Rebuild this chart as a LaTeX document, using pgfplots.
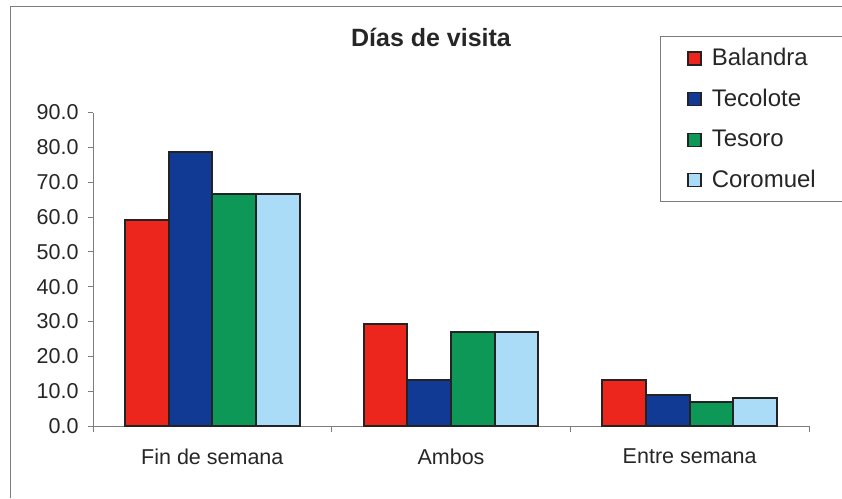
\documentclass[border=0pt]{standalone}
\usepackage{fontspec}
\setmainfont{Liberation Sans}
\usepackage{pgfplots}
\pgfplotsset{compat=1.18}

\definecolor{cBal}{RGB}{236,38,28}
\definecolor{cTec}{RGB}{16,58,148}
\definecolor{cTes}{RGB}{14,152,88}
\definecolor{cCor}{RGB}{170,220,248}
\definecolor{frameGray}{RGB}{125,125,125}
\definecolor{barEdge}{RGB}{35,35,35}

\pgfplotstableread{
cat Balandra Tecolote Tesoro Coromuel
0   59.1     78.7     66.6   66.6
1   29.3     13.1     27.0   27.0
2   13.2     9.0      6.9    7.9
}\visitas

\begin{document}
\begin{tikzpicture}[x=1pt,y=1pt]
\useasboundingbox (0,0) rectangle (842,498);
% chart frame
\draw[frameGray, line width=0.8pt] (10,0) -- (10,492) -- (842,492);
% title
\node[font=\bfseries\fontsize{25}{30}\selectfont, text=black!85] at (431,461) {Días de visita};
\begin{axis}[
  at={(93pt,72pt)}, anchor=south west,
  scale only axis, width=716pt, height=313.5pt,
  xmin=-0.5, xmax=2.5, ymin=0, ymax=90,
  ybar=0pt, bar width=0.183,
  axis x line=bottom, axis y line=left,
  axis line style={-, frameGray, line width=0.8pt},
  xtick={0,1,2},
  xticklabels={Fin de semana, Ambos, Entre semana},
  minor xtick={-0.5,0.5,1.5,2.5},
  ytick={0,10,...,90},
  tick align=outside,
  major tick length=5pt, minor tick length=6pt,
  every major x tick/.style={draw=none},
  every minor x tick/.style={frameGray, line width=0.8pt},
  every major y tick/.style={frameGray, line width=0.8pt},
  /pgf/number format/assume math mode=true,
  yticklabel={\pgfmathprintnumber[fixed, fixed zerofill, precision=1]{\tick}},
  yticklabel style={font=\fontsize{21.5}{25}\selectfont, text=black!85, xshift=-6pt},
  xticklabel style={font=\fontsize{21.5}{25}\selectfont, text=black!85, yshift=-14pt},
  legend style={at={(0.792,1.244)}, anchor=north west,
    draw=frameGray, line width=0.8pt,
    font=\fontsize{24}{28}\selectfont, text=black!85,
    row sep=18pt, inner xsep=27pt, inner ysep=10pt,
    /tikz/every odd column/.append style={column sep=8pt}},
  legend cell align=left,
]
\addplot[fill=cBal, draw=barEdge, line width=2pt,
  legend image code/.code={\draw[fill=cBal, draw=barEdge, line width=1.3pt] (0pt,-7pt) rectangle (13pt,6pt);}]
  table[x=cat, y=Balandra] {\visitas};
\addplot[fill=cTec, draw=barEdge, line width=2pt,
  legend image code/.code={\draw[fill=cTec, draw=barEdge, line width=1.3pt] (0pt,-7pt) rectangle (13pt,6pt);}]
  table[x=cat, y=Tecolote] {\visitas};
\addplot[fill=cTes, draw=barEdge, line width=2pt,
  legend image code/.code={\draw[fill=cTes, draw=barEdge, line width=1.3pt] (0pt,-7pt) rectangle (13pt,6pt);}]
  table[x=cat, y=Tesoro] {\visitas};
\addplot[fill=cCor, draw=barEdge, line width=2pt,
  legend image code/.code={\draw[fill=cCor, draw=barEdge, line width=1.3pt] (0pt,-7pt) rectangle (13pt,6pt);}]
  table[x=cat, y=Coromuel] {\visitas};
\legend{Balandra, Tecolote, Tesoro, Coromuel}
\end{axis}
\end{tikzpicture}
\end{document}
